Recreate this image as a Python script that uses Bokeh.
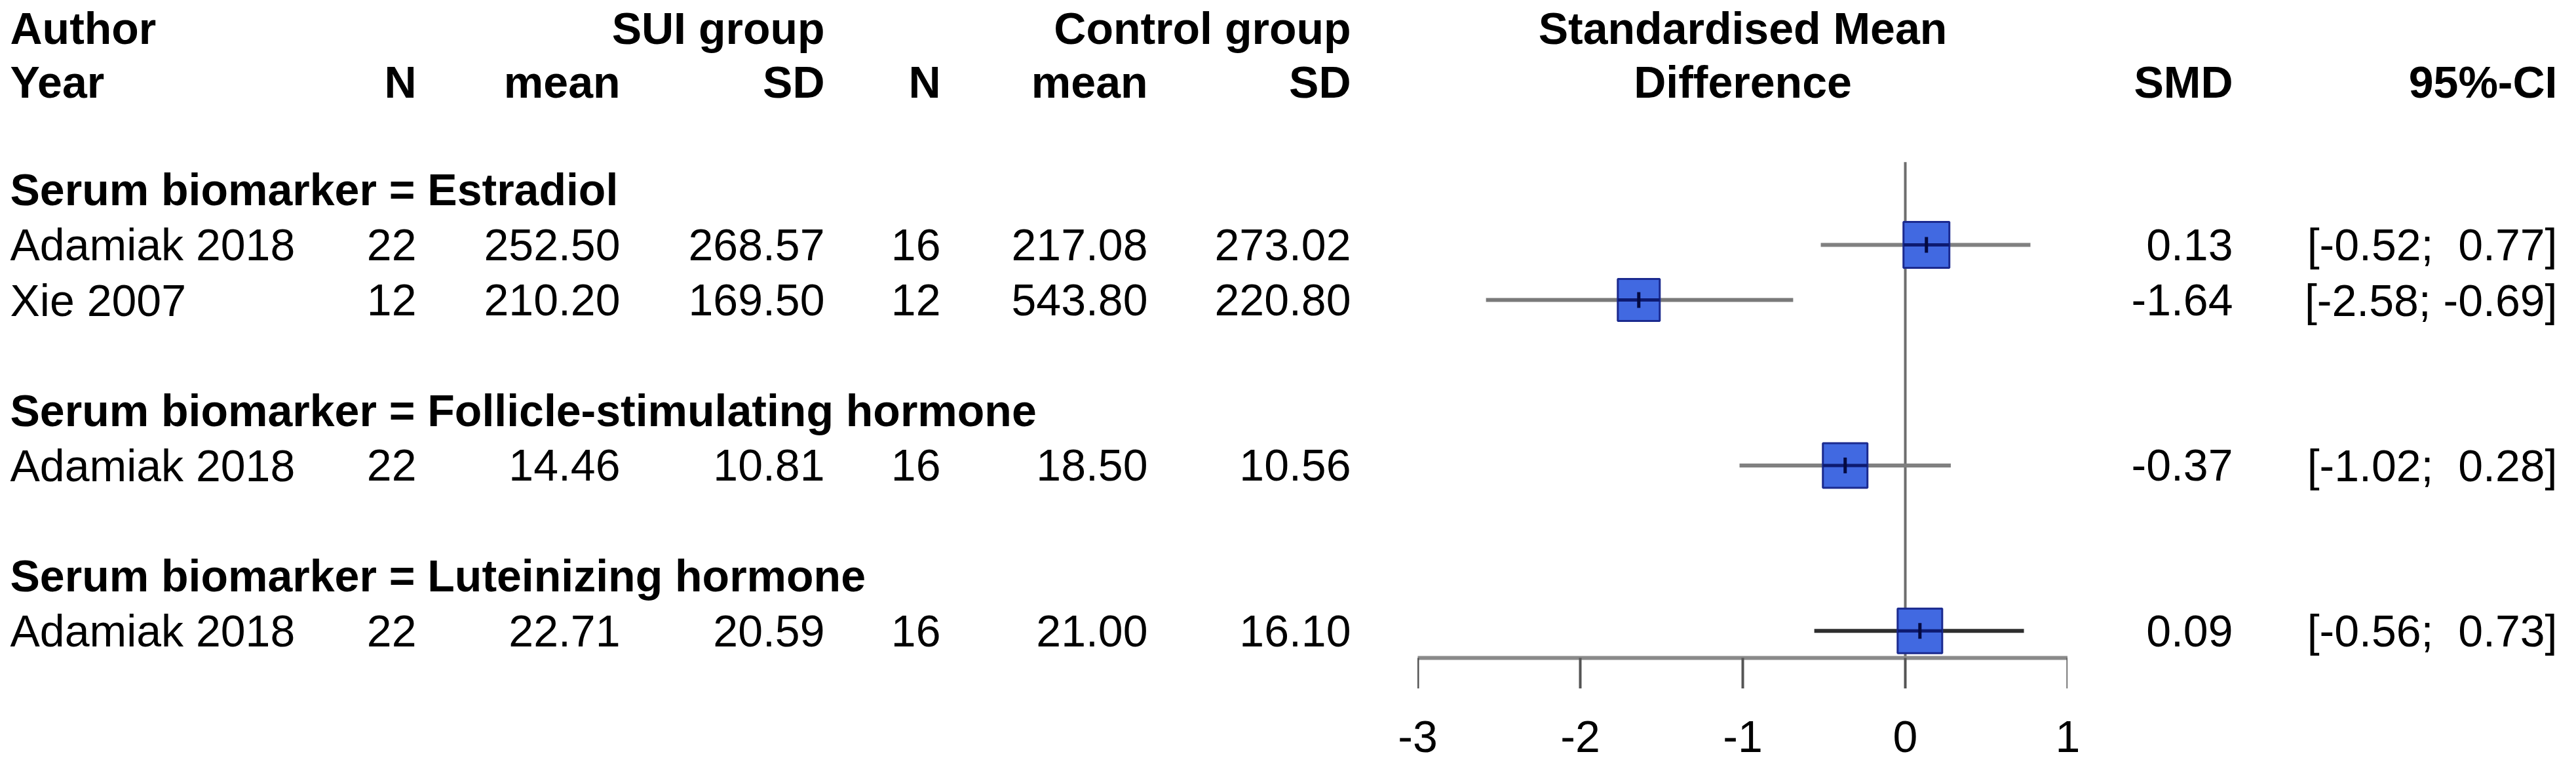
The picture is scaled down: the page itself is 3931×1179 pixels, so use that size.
from bokeh.plotting import figure
from bokeh.layouts import row, column
from bokeh.models import Range1d, FixedTicker, Spacer
from bokeh.embed import file_html
from bokeh.resources import INLINE
from bokeh.core.properties import value
import math

# ---------------- data ----------------
subgroups = ["Estradiol", "Follicle-stimulating hormone", "Luteinizing hormone"]
study = ["Adamiak 2018", "Xie 2007", "Adamiak 2018", "Adamiak 2018"]
study_group = [0, 0, 1, 2]
n_sui = [22, 12, 22, 22]
mean_sui = [252.50, 210.20, 14.46, 22.71]
sd_sui = [268.57, 169.50, 10.81, 20.59]
n_ctrl = [16, 12, 16, 16]
mean_ctrl = [217.08, 543.80, 18.50, 21.00]
sd_ctrl = [273.02, 220.80, 10.56, 16.10]
smd = [0.13, -1.64, -0.37, 0.09]
ci_low = [-0.52, -2.58, -1.02, -0.56]
ci_high = [0.77, -0.69, 0.28, 0.73]
x_ticks = [-3, -2, -1, 0, 1]

# ---------------- styles ----------------
FONT = value("Liberation Sans")
FS = "68px"
sq_size = [70, 64, 68, 68]
ci_colors = ["#808080", "#7a7a7a", "#808080", "#2e2e2e"]
SQ_FILL = "#4169E1"
SQ_LINE = "#1b2a8f"

# ---------------- row layout ----------------
head_rows = [1.07, 2.05]
grp_rows, study_rows = [], []
r = 4
for g in range(len(subgroups)):
    grp_rows.append(r)
    for i, sg in enumerate(study_group):
        if sg == g:
            r += 1
            study_rows.append(r)
    r += 2

y_top = 0.565
px_per_row = 84.1
H = 1163
FRAME_H = 1003
TICK = 47
TOP_H = FRAME_H + TICK
BOT_H = H - TOP_H
y_range = Range1d(start=y_top + FRAME_H / px_per_row, end=y_top)

W_A, W_B, W_C = 2163, 992, 760
PX_PER_UNIT = W_B / (max(x_ticks) - min(x_ticks))


def base(width, height, x_range, y_rng, mb, xaxis=None):
    p = figure(width=width, height=height, x_range=x_range, y_range=y_rng,
               output_backend="svg", toolbar_location=None,
               x_axis_location=xaxis, y_axis_location=None,
               min_border_left=0, min_border_right=0, min_border_top=0,
               min_border_bottom=mb)
    p.outline_line_color = None
    p.xgrid.visible = False
    p.ygrid.visible = False
    p.background_fill_color = "white"
    p.border_fill_color = "white"
    return p


def txt(p, x, y, t, align, bold=False):
    p.text(x=x, y=y, text=t, text_align=align, text_baseline="middle",
           text_font=FONT, text_font_size=FS,
           text_font_style="bold" if bold else "normal", text_color="black")


# ---------------- left text panel ----------------
pa = base(W_A, TOP_H, Range1d(0, W_A), y_range, TICK)
X_LEFT, X_N, X_M, X_SD, X_CN, X_CM, X_CSD = 15, 635, 946, 1258, 1435, 1751, 2061

txt(pa, [X_LEFT, X_LEFT], head_rows, ["Author", "Year"], "left", True)
txt(pa, [X_SD, X_CSD], [head_rows[0]] * 2, ["SUI group", "Control group"], "right", True)
txt(pa, [X_N, X_M, X_SD, X_CN, X_CM, X_CSD], [head_rows[1]] * 6,
    ["N", "mean", "SD", "N", "mean", "SD"], "right", True)
txt(pa, [X_LEFT] * len(grp_rows), grp_rows,
    ["Serum biomarker = " + s for s in subgroups], "left", True)
txt(pa, [X_LEFT] * len(study), study_rows, study, "left")
txt(pa, [X_N] * len(study), study_rows, [str(v) for v in n_sui], "right")
txt(pa, [X_M] * len(study), study_rows, ["%.2f" % v for v in mean_sui], "right")
txt(pa, [X_SD] * len(study), study_rows, ["%.2f" % v for v in sd_sui], "right")
txt(pa, [X_CN] * len(study), study_rows, [str(v) for v in n_ctrl], "right")
txt(pa, [X_CM] * len(study), study_rows, ["%.2f" % v for v in mean_ctrl], "right")
txt(pa, [X_CSD] * len(study), study_rows, ["%.2f" % v for v in sd_ctrl], "right")

# ---------------- forest panel ----------------
pb = base(W_B, TOP_H, Range1d(min(x_ticks), max(x_ticks)), y_range, TICK, xaxis="below")
mid = (min(x_ticks) + max(x_ticks)) / 2
txt(pb, [mid, mid], head_rows, ["Standardised Mean", "Difference"], "center", True)

# reference line at 0
pb.segment(x0=[0], y0=[grp_rows[0] - 0.5], x1=[0], y1=[y_range.start],
           line_color="#6e6e6e", line_width=4)
# confidence intervals
pb.segment(x0=ci_low, y0=study_rows, x1=ci_high, y1=study_rows,
           line_color=ci_colors, line_width=6)
# squares
pb.scatter(x=smd, y=study_rows, marker="square", size=sq_size,
           fill_color=SQ_FILL, line_color=SQ_LINE, line_width=3)
# inside lines
pb.scatter(x=smd, y=study_rows, marker="dash", size=sq_size,
           line_color="#0d1a70", line_width=5, fill_color=None)
pb.scatter(x=smd, y=study_rows, marker="dash", size=24, angle=math.pi / 2,
           line_color="#050a40", line_width=5, fill_color=None)

ax = pb.xaxis[0]
ax.ticker = FixedTicker(ticks=x_ticks)
ax.minor_tick_line_color = None
ax.major_tick_in = 0
ax.major_tick_out = TICK
ax.major_tick_line_color = "#555555"
ax.major_tick_line_width = 4
ax.axis_line_color = "#8a8a8a"
ax.axis_line_width = 6
ax.major_label_overrides = {t: "" for t in x_ticks}
ax.major_label_standoff = 0

# tick labels, placed at the tick values through the same x scale (wider panel)
PAD = 100
pad_u = PAD / PX_PER_UNIT
pd_ = base(W_B + 2 * PAD, BOT_H,
           Range1d(min(x_ticks) - pad_u, max(x_ticks) + pad_u), Range1d(0, 1), 0)
txt(pd_, x_ticks, [0.35] * len(x_ticks), [str(t) for t in x_ticks], "center")

# ---------------- right text panel ----------------
pc = base(W_C, TOP_H, Range1d(0, W_C), y_range, TICK)
X_SMD, X_CI = 252, 747
txt(pc, [X_SMD, X_CI], [head_rows[1]] * 2, ["SMD", "95%-CI"], "right", True)
txt(pc, [X_SMD] * len(smd), study_rows, ["%.2f" % v for v in smd], "right")


def fmt(v):
    s = "%.2f" % v
    return ("\u00a0" + s) if v >= 0 else s


txt(pc, [X_CI] * len(smd), study_rows,
    ["[" + fmt(lo) + "; " + fmt(hi) + "]" for lo, hi in zip(ci_low, ci_high)], "right")

top = row(pa, pb, pc, spacing=0)
bottom = row(Spacer(width=W_A - PAD, height=BOT_H), pd_, spacing=0)
layout = column(top, bottom, spacing=0)
open("out.html", "w").write(file_html(layout, INLINE))
